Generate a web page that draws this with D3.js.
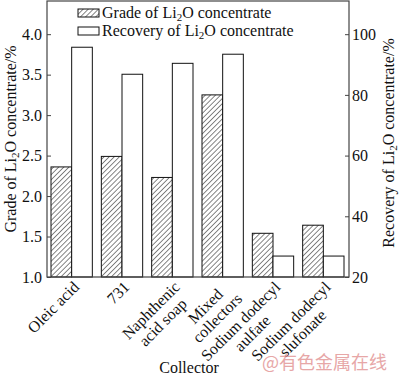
<!DOCTYPE html>
<html>
<head>
<meta charset="utf-8">
<script src="https://cdn.jsdelivr.net/npm/d3@7"></script>
<style>
  body { margin: 0; background: #fff; }
  svg text { font-family: "Liberation Serif", "DejaVu Serif", serif; }
  svg text.cjk { font-family: "Noto Sans CJK SC", sans-serif; }
</style>
</head>
<body>
<svg width="400" height="377"></svg>
<script>
// data
var collectors = ["Oleic acid", "731", "Naphthenic acid soap", "Mixed collectors",
                  "Sodium dodecyl aulfate", "Sodium dodecyl slufonate"];
var labelLines = [["Oleic acid"], ["731"], ["Naphthenic", "acid soap"], ["Mixed", "collectors"],
                  ["Sodium dodecyl", "aulfate"], ["Sodium dodecyl", "slufonate"]];
var grade = [2.36, 2.49, 2.23, 3.25, 1.54, 1.64];        // %, left axis
var recovery = [95.7, 86.8, 90.4, 93.4, 26.9, 26.9];     // %, right axis
var gradeTicks = [1.0, 1.5, 2.0, 2.5, 3.0, 3.5, 4.0];
var recoveryTicks = [20, 40, 60, 80, 100];

var svg = d3.select("svg");
var plot = {left: 47, right: 349, top: 1, bottom: 277};

//scales
var x0 = d3.scaleBand().domain(collectors).range([plot.left, plot.right]);
var x1 = d3.scaleBand().domain(["grade", "recovery"]).range([4, x0.bandwidth() - 5]);
var yL = d3.scaleLinear().domain([1, 4.41]).range([plot.bottom, plot.top]);
var yR = d3.scaleLinear().domain([20, 20 + 3.41 * 80 / 3]).range([plot.bottom, plot.top]);

// hatch pattern
var defs = svg.append("defs");
defs.append("pattern")
    .attr("id", "hatch")
    .attr("patternUnits", "userSpaceOnUse")
    .attr("width", 3.6).attr("height", 3.6)
    .attr("patternTransform", "rotate(45)")
    .append("line")
    .attr("x1", 0).attr("y1", 0).attr("x2", 0).attr("y2", 3.6)
    .attr("stroke", "#222").attr("stroke-width", 1.1);

//bars
var groups = svg.append("g").selectAll("g")
    .data(collectors)
    .enter().append("g")
    .attr("transform", function(d){ return "translate(" + x0(d) + ",0)"; });

groups.append("rect")
    .attr("x", x1("grade"))
    .attr("y", function(d, i){ return yL(grade[i]); })
    .attr("width", x1.bandwidth())
    .attr("height", function(d, i){ return yL(1) - yL(grade[i]); })
    .attr("fill", "url(#hatch)")
    .attr("stroke", "#111").attr("stroke-width", 1);

groups.append("rect")
    .attr("x", x1("recovery"))
    .attr("y", function(d, i){ return yR(recovery[i]); })
    .attr("width", x1.bandwidth())
    .attr("height", function(d, i){ return yR(20) - yR(recovery[i]); })
    .attr("fill", "#fff")
    .attr("stroke", "#111").attr("stroke-width", 1);

// frame
svg.append("rect")
    .attr("x", plot.left).attr("y", plot.top)
    .attr("width", plot.right - plot.left).attr("height", plot.bottom - plot.top)
    .attr("fill", "none").attr("stroke", "#444").attr("stroke-width", 1.2);

//axes
var leftAxis = svg.append("g")
    .attr("transform", "translate(" + plot.left + ",0)")
    .call(d3.axisRight(yL).tickValues(gradeTicks).tickFormat(d3.format(".1f")).tickSize(4));
leftAxis.select(".domain").remove();
leftAxis.attr("font-family", null).attr("font-size", null);
leftAxis.selectAll("text").attr("x", -5).attr("text-anchor", "end")
    .style("font-size", "16px").attr("fill", "#111");
leftAxis.selectAll("line").attr("stroke", "#444");

var rightAxis = svg.append("g")
    .attr("transform", "translate(" + plot.right + ",0)")
    .call(d3.axisLeft(yR).tickValues(recoveryTicks).tickSize(4));
rightAxis.select(".domain").remove();
rightAxis.attr("font-family", null).attr("font-size", null);
rightAxis.selectAll("text").attr("x", 3).attr("text-anchor", "start")
    .style("font-size", "16px").attr("fill", "#111");
rightAxis.selectAll("line").attr("stroke", "#444");

// x labels, rotated
svg.append("g").selectAll("text")
    .data(collectors)
    .enter().append("text")
    .style("font-size", "16px")
    .attr("fill", "#111")
    .attr("text-anchor", "middle")
    .each(function(d, i){
      var t = d3.select(this);
      labelLines[i].forEach(function(line, k){
        t.append("tspan").attr("x", 0).attr("dy", k == 0 ? 0 : "1.05em").text(line);
      });
      var w = this.getBBox().width;
      var px = x0(d) + x0.bandwidth() / 2 + 8;
      t.attr("transform", "translate(" + px + ",288) rotate(-45) translate(" + (-w / 2) + ",0)");
    });

// axis titles
function titleLi(sel, before, after){
  sel.append("tspan").text(before + "Li");
  sel.append("tspan").attr("font-size", "11px").attr("dy", 3).text("2");
  sel.append("tspan").attr("dy", -3).text("O" + after);
}
titleLi(svg.append("text")
    .attr("transform", "translate(16,139) rotate(-90)")
    .attr("text-anchor", "middle").style("font-size", "16px").attr("fill", "#111"),
  "Grade of ", " concentrate/%");

titleLi(svg.append("text")
    .attr("transform", "translate(394,143) rotate(-90)")
    .attr("text-anchor", "middle").style("font-size", "16px").attr("fill", "#111"),
  "Recovery of ", " concentrate/%");

svg.append("text")
    .attr("x", 189).attr("y", 373)
    .attr("text-anchor", "middle").style("font-size", "16px").attr("fill", "#111")
    .text("Collector");

// legend
var legend = svg.append("g");
legend.append("rect").attr("x", 78).attr("y", 9).attr("width", 21).attr("height", 8)
    .attr("fill", "url(#hatch)").attr("stroke", "#111");
legend.append("rect").attr("x", 78).attr("y", 27).attr("width", 21).attr("height", 8)
    .attr("fill", "#fff").attr("stroke", "#111");
titleLi(legend.append("text").attr("x", 102).attr("y", 18)
    .style("font-size", "16px").attr("fill", "#111"), "Grade of ", " concentrate");
titleLi(legend.append("text").attr("x", 102).attr("y", 36)
    .style("font-size", "16px").attr("fill", "#111"), "Recovery of ", " concentrate");

// watermark
svg.append("text")
    .attr("class", "cjk")
    .attr("x", 262).attr("y", 369)
    .style("font-size", "18px")
    .attr("fill", "#e08a8a").attr("opacity", 0.75)
    .text("@有色金属在线");
</script>
</body>
</html>
